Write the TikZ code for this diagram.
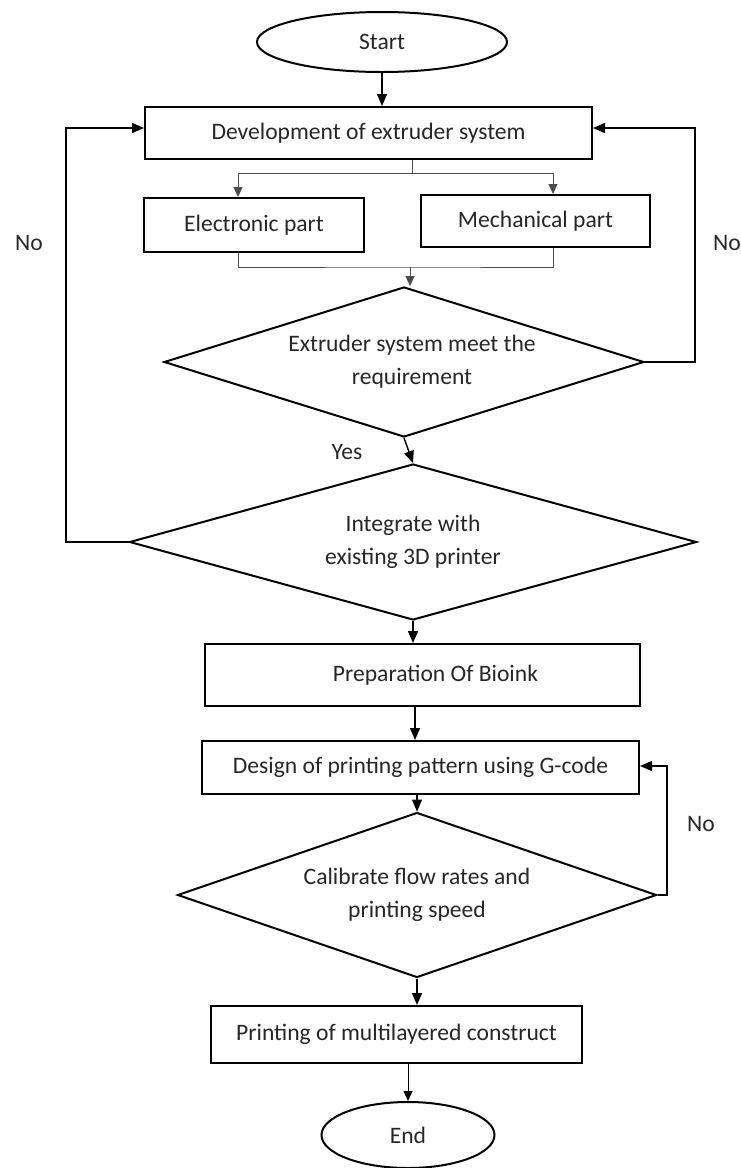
\documentclass[tikz,border=0pt]{standalone}
\usepackage{fontspec}
\setmainfont{Carlito}
\usetikzlibrary{shapes.geometric,arrows.meta}
\tikzset{
  every node/.style={font=\fontsize{11.8}{16.5}\selectfont, text=black!85},
  procbox/.style={draw, line width=1pt, rectangle, inner sep=0pt, align=center},
  termbox/.style={draw, line width=1pt, ellipse, inner sep=0pt},
  decbox/.style={draw, line width=1pt, diamond, inner sep=0pt, align=center},
  flow/.style={line width=0.7pt, -{Triangle[length=6pt,width=5pt]}},
  thinflow/.style={line width=0.5pt, black!70, -{Triangle[length=5pt,width=4.5pt]}},
  lbl/.style={inner sep=0pt}
}
\begin{document}
\begin{tikzpicture}[x=0.5pt, y=-0.5pt]
    \useasboundingbox (0,0) rectangle (740,1168);

    % Terminals
    \node[termbox, minimum width=125pt, minimum height=30pt] (start) at (382,42) {Start};
    \node[termbox, minimum width=86.5pt, minimum height=33pt] (end) at (408,1135) {End};

    % Extruder development
    \node[procbox, minimum width=223.5pt, minimum height=26pt] (dev) at (368.5,133) {Development of extruder system};
    \node[procbox, minimum width=110pt, minimum height=27pt] (elec) at (254,225) {Electronic part};
    \node[procbox, minimum width=114.5pt, minimum height=26pt] (mech) at (535.5,221) {Mechanical part};
    \node[decbox, shape aspect=3.2, minimum width=240pt, minimum height=75pt] (req) at (404,362) {\hspace*{8pt}Extruder system meet the\\ \hspace*{8pt}requirement};
    \node[decbox, shape aspect=3.63, minimum width=283.5pt, minimum height=78pt] (integ) at (413,542) {Integrate with\\ existing 3D printer};

    % Printing
    \node[procbox, minimum width=217.5pt, minimum height=31pt] (prep) at (422.5,675) {\hspace*{13pt}Preparation Of Bioink};
    \node[procbox, minimum width=218.5pt, minimum height=26.5pt] (design) at (420.5,767.5) {Design of printing pattern using G-code};
    \node[decbox, shape aspect=2.9, minimum width=239.5pt, minimum height=82.5pt] (calib) at (417,895) {Calibrate flow rates and\\ printing speed};
    \node[procbox, minimum width=185.5pt, minimum height=28.5pt] (print) at (396.5,1034.5) {Printing of multilayered construct};

    % Split and merge
    \coordinate (split) at (412,173);
    \coordinate (merge) at (410,267);
    \draw[line width=0.5pt, black!70] (split |- dev.south) -- (split);
    \draw[thinflow] (split) -| ([xshift=-8pt]elec.north);
    \draw[thinflow] (split) -| ([xshift=8.75pt]mech.north);
    \draw[line width=0.5pt, black!70] ([xshift=-8pt]elec.south) |- (merge)
        -| ([xshift=8.75pt]mech.south);
    \draw[thinflow] (merge) -- (merge |- req.north);

    % Main flow
    \draw[flow] (start.south) -- (start.south |- dev.north);
    \draw[flow] (req.south) -- (integ.north);
    \node[lbl] (yes) at (347,452) {Yes};
    \draw[flow] (integ.south) -- (prep.north -| integ.south);
    \draw[flow] ([xshift=-3.75pt]prep.south) -- ([xshift=-3.75pt]prep.south |- design.north);
    \draw[flow] (design.south -| calib.north) -- (calib.north);
    \draw[flow] (calib.south) -- (calib.south |- print.north);
    \draw[thinflow, black] (end.north |- print.south) -- (end.north);

    % Feedback loops
    \coordinate (rloop) at (695,128);
    \coordinate (lloop) at (66,128);
    \coordinate (cloop) at (667,766);
    \draw[flow] (req.east) -| (rloop) -- (dev.east |- rloop);
    \draw[flow] (integ.west) -| (lloop) -- (dev.west |- lloop);
    \draw[flow] (calib.east) -| (cloop) -- (design.east |- cloop);
    \node[lbl] (noleft) at (29,243) {No};
    \node[lbl] (noright) at (727,243) {No};
    \node[lbl] (nocalib) at (701,824) {No};
\end{tikzpicture}
\end{document}
